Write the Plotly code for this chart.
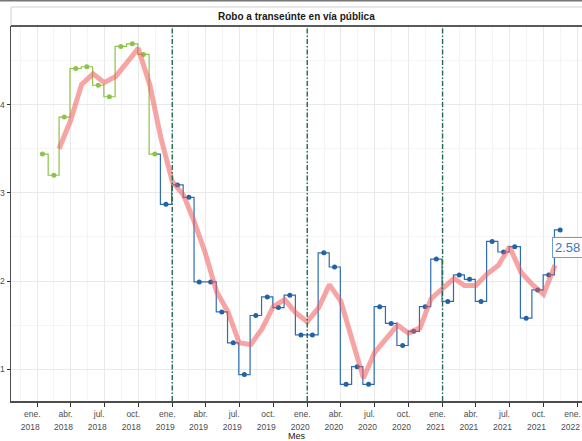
import pandas as pd
import plotly.graph_objects as go

# ---------------- data ----------------
meses = [
    "2018-01", "2018-02", "2018-03", "2018-04", "2018-05", "2018-06",
    "2018-07", "2018-08", "2018-09", "2018-10", "2018-11", "2018-12",
    "2019-01", "2019-02", "2019-03", "2019-04", "2019-05", "2019-06",
    "2019-07", "2019-08", "2019-09", "2019-10", "2019-11", "2019-12",
    "2020-01", "2020-02", "2020-03", "2020-04", "2020-05", "2020-06",
    "2020-07", "2020-08", "2020-09", "2020-10", "2020-11", "2020-12",
    "2021-01", "2021-02", "2021-03", "2021-04", "2021-05", "2021-06",
    "2021-07", "2021-08", "2021-09", "2021-10", "2021-11",
]
valores = [
    3.44, 3.20, 3.86, 4.41, 4.43, 4.22, 4.09, 4.66, 4.69, 4.57, 3.44, 2.87,
    3.09, 2.95, 1.99, 1.99, 1.65, 1.30, 0.94, 1.61, 1.82, 1.70, 1.84, 1.39,
    1.39, 2.32, 2.16, 0.83, 1.03, 0.83, 1.71, 1.52, 1.27, 1.43, 1.71, 2.25,
    1.77, 2.07, 2.02, 1.77, 2.45, 2.33, 2.39, 1.58, 1.90, 2.07, 2.58,
]
n_anterior = 11  # first months drawn in green

media_meses = meses[2:]
media_movil = [
    3.50, 3.82, 4.23, 4.35, 4.25, 4.32, 4.48, 4.64, 4.23, 3.63,
    3.13, 2.97, 2.68, 2.31, 1.88, 1.65, 1.30, 1.28, 1.46, 1.71, 1.79, 1.64,
    1.54, 1.70, 1.96, 1.77, 1.34, 0.90, 1.19, 1.35, 1.50, 1.41, 1.47, 1.80,
    1.91, 2.03, 1.95, 1.95, 2.08, 2.18, 2.39, 2.10, 1.96, 1.85, 2.18,
]
cortes = ["2019-01-01", "2020-01-01", "2021-01-01"]

tick_fechas = pd.date_range("2018-01-01", "2022-01-01", freq="QS")
etiquetas_mes = ["ene.", "abr.", "jul.", "oct."] * 4 + ["ene."]
etiquetas_anio = [str(d.year) for d in tick_fechas]

titulo = "Robo a transeúnte en vía pública"
eje_x = "Mes"

# ---------------- styling ----------------
VERDE = "#8DC34A"
AZUL = "#2F6DB0"
AZUL_PUNTO = "#2462A6"
ROJO = "rgba(240,90,90,0.55)"
CORTE = "#216B4C"
GRID = "#E9E9E9"
GRID_MINOR = "#F4F4F4"
TXT = "#4D4D4D"
FONT = "Liberation Sans, Arial, sans-serif"

fechas = pd.to_datetime(meses) + pd.Timedelta(days=14)
fechas_media = pd.to_datetime(media_meses)

qs = pd.date_range("2017-10-01", "2022-04-01", freq="QS")
minor_x = [qs[i] + (qs[i + 1] - qs[i]) / 2 for i in range(len(qs) - 1)]

fig = go.Figure()

# blue step line (starts at last green point)
fig.add_trace(go.Scatter(
    x=fechas[n_anterior - 1:], y=valores[n_anterior - 1:], mode="lines",
    line=dict(color=AZUL, width=1.2, shape="hvh"), hoverinfo="skip",
    showlegend=False))
fig.add_trace(go.Scatter(
    x=fechas[n_anterior:], y=valores[n_anterior:], mode="markers",
    marker=dict(color=AZUL_PUNTO, size=5), showlegend=False))
# green step line
fig.add_trace(go.Scatter(
    x=fechas[:n_anterior], y=valores[:n_anterior], mode="lines+markers",
    line=dict(color=VERDE, width=1.2, shape="hvh"),
    marker=dict(color=VERDE, size=5), showlegend=False))
# moving average
fig.add_trace(go.Scatter(
    x=fechas_media, y=media_movil, mode="lines",
    line=dict(color=ROJO, width=5), showlegend=False))
# dummy trace for the year-label axis
fig.add_trace(go.Scatter(x=[], y=[], xaxis="x2", showlegend=False))

for c in cortes:
    fig.add_shape(type="line", xref="x", yref="paper", x0=c, x1=c, y0=0, y1=1,
                  line=dict(color=CORTE, width=1.4, dash="5px,2px,1.5px,2px"),
                  layer="above")

# strip / frame lines
fig.add_shape(type="line", xref="paper", yref="paper", x0=-0.02, x1=1.01,
              y0=1.0675, y1=1.0675, line=dict(color="#777777", width=1.5))
fig.add_shape(type="line", xref="paper", yref="paper", x0=0, x1=1.01,
              y0=1.0507, y1=1.0507, line=dict(color="#D0D0D0", width=1))
fig.add_shape(type="line", xref="paper", yref="paper", x0=0, x1=0,
              y0=1.0, y1=1.0507, line=dict(color="#D0D0D0", width=1))
fig.add_shape(type="line", xref="paper", yref="paper", x0=0, x1=1.01,
              y0=1.0, y1=1.0, line=dict(color="#5A5A5A", width=2))

fig.add_annotation(text="<b>" + titulo + "</b>", xref="paper", yref="paper",
                   x=0.5, y=1.0253, showarrow=False, yanchor="middle",
                   font=dict(size=10, color="#1A1A1A", family=FONT))
fig.add_annotation(text=eje_x, xref="paper", yref="paper", x=0.5, y=-0.092,
                   showarrow=False, yanchor="middle",
                   font=dict(size=9, color="#1A1A1A", family=FONT))
fig.add_annotation(text=f"{valores[-1]:.2f}", x=fechas[-1], y=valores[-1],
                   xref="x", yref="y", showarrow=False, xanchor="left",
                   yanchor="top", xshift=-8, yshift=-7,
                   bgcolor="white", bordercolor="#6E9FD0", borderwidth=1,
                   borderpad=2, font=dict(size=13, color="#3A78B8", family=FONT))

xrange = ["2017-10-22", "2022-01-13"]
fig.update_layout(
    width=582, height=441,
    margin=dict(l=11, r=0, t=26, b=40),
    paper_bgcolor="white", plot_bgcolor="white",
    font=dict(family=FONT, color=TXT),
    showlegend=False,
    hovermode=False,
    xaxis=dict(
        type="date", range=xrange, tickmode="array",
        tickvals=tick_fechas, ticktext=etiquetas_mes,
        ticks="outside", ticklen=4, tickcolor="#333333", tickwidth=1.2,
        tickfont=dict(size=8.5, color=TXT), ticklabelshift=-5,
        showline=True, linecolor="#4D4D4D", linewidth=1.5,
        showgrid=True, gridcolor=GRID, gridwidth=1,
        minor=dict(tickmode="array", tickvals=minor_x, showgrid=True,
                   gridcolor=GRID_MINOR, gridwidth=1),
        zeroline=False, automargin=False, fixedrange=True,
    ),
    xaxis2=dict(
        type="date", range=xrange, overlaying="x", side="bottom", anchor="y",
        tickmode="array", tickvals=tick_fechas, ticktext=etiquetas_anio,
        ticks="", tickfont=dict(size=8.5, color=TXT), ticklabelshift=-7,
        ticklabelstandoff=19, showline=False, showgrid=False, zeroline=False,
        automargin=False,
    ),
    yaxis=dict(
        range=[0.6406, 4.892], tickmode="array", tickvals=[1, 2, 3, 4],
        ticks="outside", ticklen=3, tickcolor="#333333",
        tickfont=dict(size=8.5, color=TXT),
        showline=True, linecolor="#4D4D4D", linewidth=1.5,
        showgrid=True, gridcolor=GRID,
        minor=dict(dtick=0.5, showgrid=True, gridcolor=GRID_MINOR),
        zeroline=False, automargin=False, fixedrange=True,
    ),
)

fig.write_html(
    "out.html",
    config={"displayModeBar": False, "staticPlot": True},
    post_script="document.body.style.margin='0px';document.body.style.padding='0px';",
)
